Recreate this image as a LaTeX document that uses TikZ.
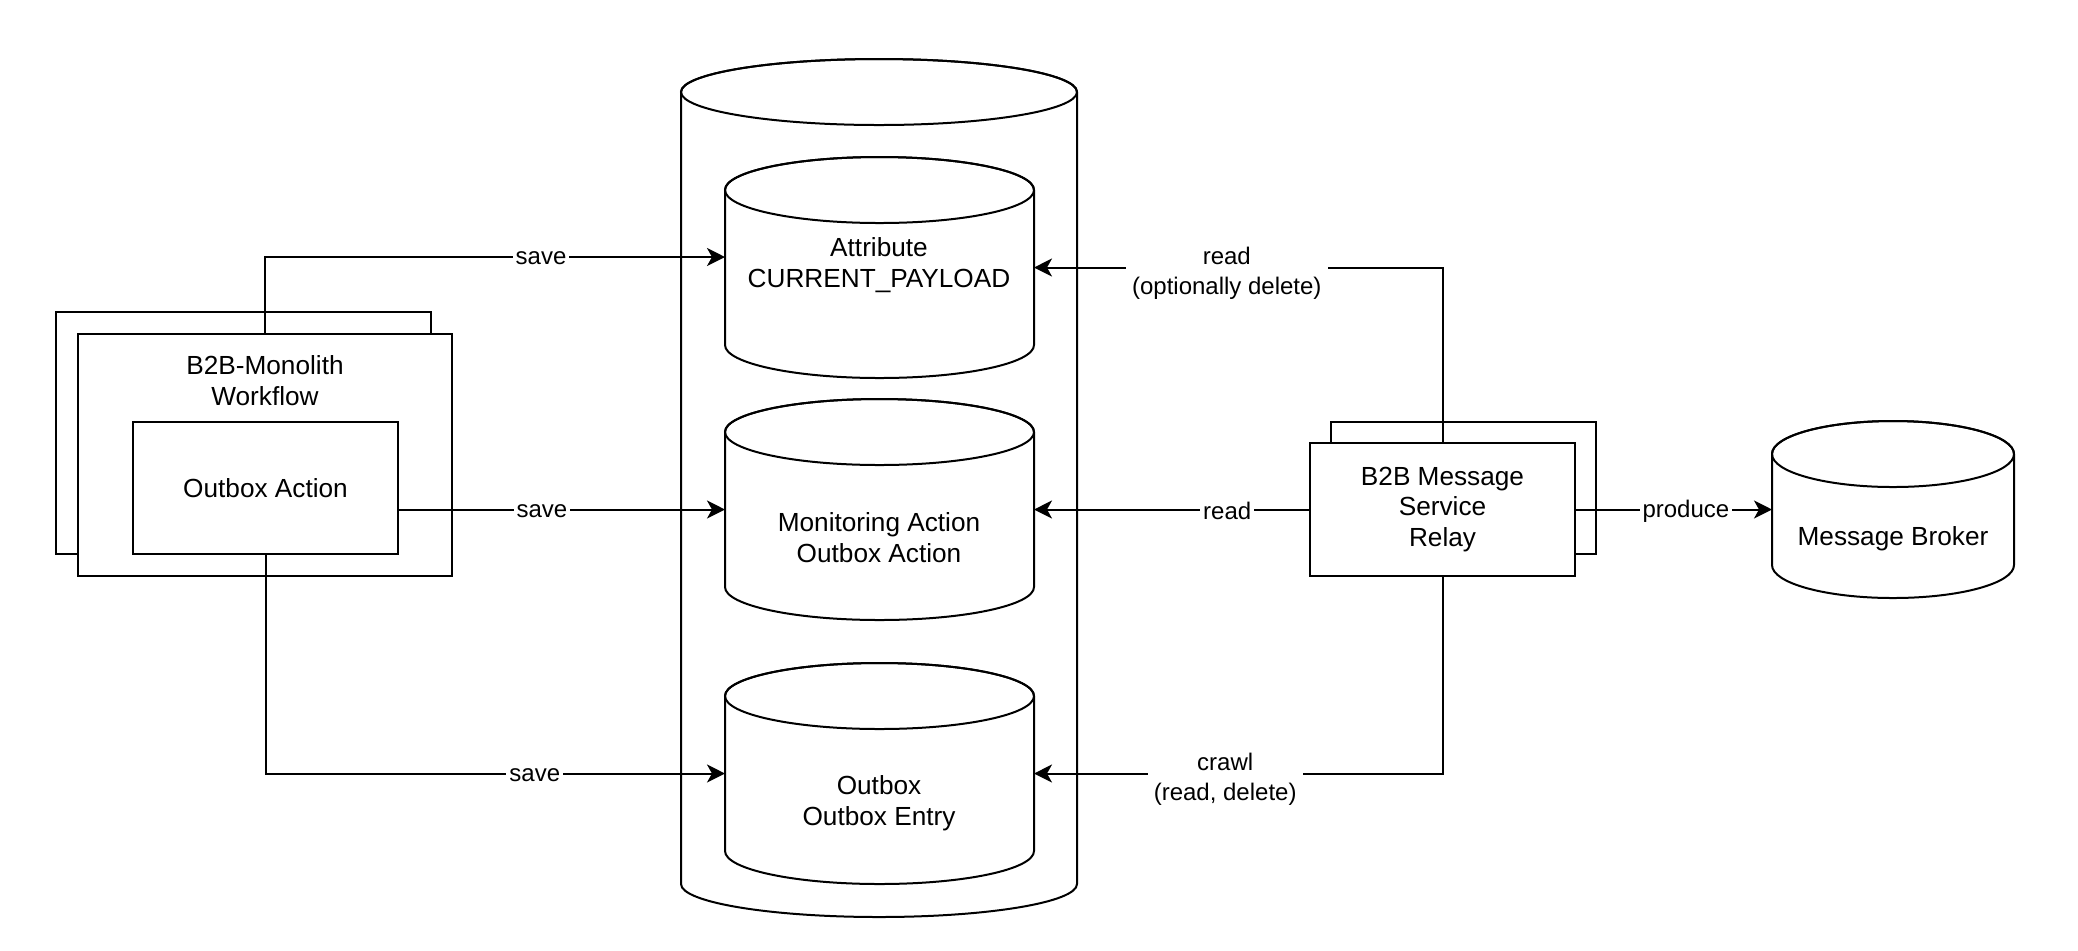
\documentclass[tikz,border=0pt]{standalone}
\usepackage{fontspec}
\setmainfont{Liberation Sans}
\usetikzlibrary{arrows.meta,calc}
\tikzset{
  box/.style={draw, line width=1pt, fill=white, inner sep=0pt, outer sep=0pt, align=center, font=\fontsize{13.1}{15.3}\selectfont},
  area/.style={inner sep=0pt, outer sep=0pt},
  txt/.style={align=center, inner sep=0pt, font=\fontsize{13.1}{15.6}\selectfont},
  conn/.style={line width=1pt, -{Stealth[length=9pt,width=9pt,inset=2.5pt]}},
  lbl/.style={fill=white, align=center, inner sep=1.5pt, yshift=-0.8pt, font=\fontsize{12}{15}\selectfont},
  cylline/.style={draw, line width=1pt, fill=white},
}
\newcommand\dbshape[5]{%
  \pgfmathsetmacro\dbcx{(#2+#4)/2}%
  \pgfmathsetmacro\dbrx{(#4-#2)/2}%
  \pgfmathsetmacro\dbcy{(#3+#5)/2}%
  \pgfmathsetmacro\dbw{(#4-#2)*0.5}%
  \pgfmathsetmacro\dbh{(#5-#3)*0.5}%
  \path[cylline] (#2,#3+33) -- (#2,#5-33)
     arc[start angle=180,end angle=0,x radius=\dbrx,y radius=33]
     -- (#4,#3+33)
     arc[start angle=0,end angle=-180,x radius=\dbrx,y radius=33] -- cycle;
  \draw[line width=1pt] (\dbcx,#3+33) ellipse[x radius=\dbrx,y radius=33];
  \node[area, minimum width=\dbw pt, minimum height=\dbh pt] (#1) at (\dbcx,\dbcy) {};
}
\begin{document}
\begin{tikzpicture}[x=0.5pt,y=-0.5pt]
\useasboundingbox (0,0) rectangle (2078,950);

% database cylinders
\dbshape{bigdb}{681}{59}{1077}{917}
\dbshape{attr}{725}{157}{1034}{378}
\dbshape{mon}{725}{399}{1034}{620}
\dbshape{outb}{725}{663}{1034}{884}
\dbshape{broker}{1772}{421}{2014}{598}

\node[txt] (attrtxt) at (879,265) {Attribute\\CURRENT\_PAYLOAD};
\node[txt] (montxt) at (879,538) {Monitoring Action\\Outbox Action};
\node[txt] (outbtxt) at (879,803) {Outbox\\Outbox Entry};
\node[txt] (brokertxt) at (1893,539) {Message Broker};

% monolith
\node[box, minimum width=187.5pt, minimum height=121pt] (monoback) at (243.5,433) {};
\node[box, minimum width=187pt, minimum height=121pt] (mono) at (265,455) {};
\node[txt] (monotxt) at (265,381) {B2B-Monolith\\Workflow};
\node[box, minimum width=132.5pt, minimum height=66pt] (outact) at (265.5,488) {Outbox Action};

% relay
\node[box, minimum width=132.5pt, minimum height=66pt] (relayback) at (1463.5,488) {};
\node[box, minimum width=132.5pt, minimum height=66.5pt] (relay) at (1442.5,509.5) {B2B Message\\Service\\Relay};

% connectors
\draw[conn] (mono.north) |- ([yshift=5.25pt]attr.west) node[lbl, pos=0.8] {save};
\draw[conn] (outact.east |- mon.west) -- (mon.west) node[lbl, pos=0.44] {save};
\draw[conn] (outact.south) |- (outb.west) node[lbl, pos=0.793] {save};

\draw[conn] (relay.north) |- (attr.east) node[lbl, pos=0.764, inner sep=3pt, yshift=-2pt] {read\\(optionally delete)};
\draw[conn] (relay.west) -- (mon.east) node[lbl, pos=0.30] {read};
\draw[conn] (relay.south) |- (outb.east) node[lbl, pos=0.766, inner sep=3pt, yshift=-2pt] {crawl\\(read, delete)};
\draw[conn] (relay.east) -- (broker.west) node[lbl, pos=0.563] {produce};
\end{tikzpicture}
\end{document}
